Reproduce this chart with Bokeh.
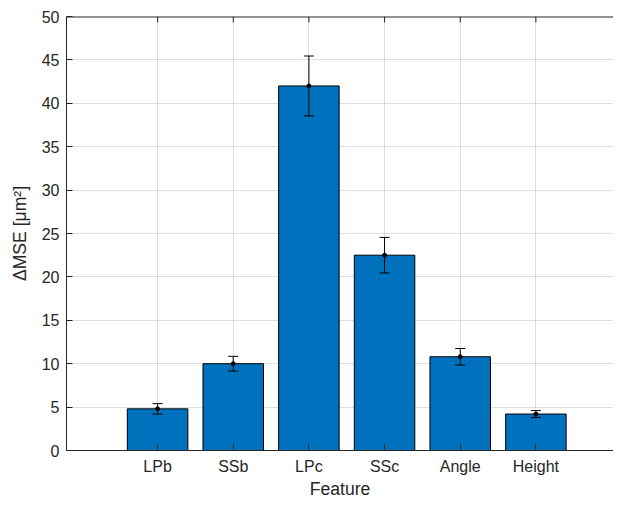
import math
from bokeh.plotting import figure
from bokeh.models import (LinearAxis, FixedTicker, Range1d, Whisker, TeeHead,
                          ColumnDataSource)
from bokeh.embed import file_html
from bokeh.resources import INLINE

# ---- data ----
categories = ["LPb", "SSb", "LPc", "SSc", "Angle", "Height"]
delta_mse = [4.8, 10.0, 42.0, 22.5, 10.8, 4.2]
err = [0.6, 0.85, 3.45, 2.05, 0.95, 0.4]
y_ticks = [0, 5, 10, 15, 20, 25, 30, 35, 40, 45, 50]

xpos = list(range(1, len(categories) + 1))
src = ColumnDataSource(dict(
    x=xpos, y=delta_mse,
    lo=[v - e for v, e in zip(delta_mse, err)],
    hi=[v + e for v, e in zip(delta_mse, err)],
))

FONT = "Liberation Sans"
AX = "#262626"

p = figure(width=613, height=501, output_backend="svg", toolbar_location=None,
           x_range=Range1d(-0.204, 7.026), y_range=Range1d(y_ticks[0], y_ticks[-1]),
           x_axis_location=None, y_axis_location=None,
           min_border_left=66, min_border_right=0, min_border_top=16,
           min_border_bottom=50)
p.outline_line_color = None
p.background_fill_color = "white"
p.border_fill_color = "white"

def style_axis(ax):
    ax.axis_line_color = AX
    ax.axis_line_width = 1
    ax.major_tick_line_color = AX
    ax.major_tick_in = 6
    ax.major_tick_out = 0
    ax.minor_tick_line_color = None
    ax.major_label_text_font = FONT
    ax.major_label_text_color = AX
    ax.major_label_text_font_size = "16px"
    ax.axis_label_text_font = FONT
    ax.axis_label_text_color = AX
    ax.axis_label_text_font_style = "normal"
    ax.axis_label_text_font_size = "17.6px"

xticker = FixedTicker(ticks=xpos)
yticker = FixedTicker(ticks=y_ticks)

xb = LinearAxis(ticker=xticker,
                major_label_overrides={x: c for x, c in zip(xpos, categories)},
                axis_label="Feature")
style_axis(xb)
xb.major_label_standoff = 7
xb.axis_label_standoff = 1
p.add_layout(xb, "below")

yl = LinearAxis(ticker=yticker, axis_label="ΔMSE [μm²]")
style_axis(yl)
yl.major_label_standoff = 7
yl.axis_label_standoff = 9
p.add_layout(yl, "left")

# top border line and inward ticks (box on)
p.segment(x0=[p.x_range.start], y0=[y_ticks[-1]], x1=[p.x_range.end],
          y1=[y_ticks[-1]], line_color=AX, line_width=2)
p.ray(x=xpos, y=[y_ticks[-1]] * len(xpos), length=6, length_units="screen",
      angle=-math.pi / 2, line_color=AX, line_width=1)

p.xgrid.ticker = xticker
p.ygrid.ticker = yticker
p.xgrid.grid_line_color = AX
p.ygrid.grid_line_color = AX
p.xgrid.grid_line_alpha = 0.15
p.ygrid.grid_line_alpha = 0.15

p.vbar(x="x", top="y", width=0.8, source=src, fill_color="#0072BD",
       line_color="black", line_width=1)

w = Whisker(base="x", lower="lo", upper="hi", source=src, level="overlay",
            line_color="black", line_width=1,
            upper_head=TeeHead(size=10, line_color="black", line_width=1),
            lower_head=TeeHead(size=10, line_color="black", line_width=1))
p.add_layout(w)
p.scatter(x="x", y="y", source=src, size=4, color="black", level="overlay")

open("out.html", "w").write(file_html(p, INLINE))
